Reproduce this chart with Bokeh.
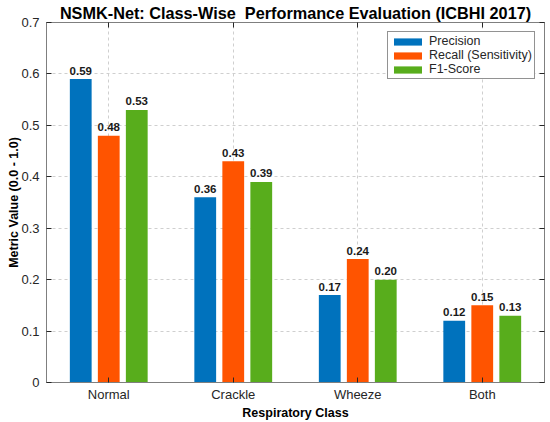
from bokeh.plotting import figure
from bokeh.models import (FactorRange, Range1d, FixedTicker, CategoricalAxis, LinearAxis,
                          ColumnDataSource, Legend, LegendItem)
from bokeh.transform import dodge
from bokeh.core.properties import value
from bokeh.embed import file_html
from bokeh.resources import INLINE

# ---- data ----
classes = ["Normal", "Crackle", "Wheeze", "Both"]
precision = [0.59, 0.36, 0.17, 0.12]
recall = [0.48, 0.43, 0.24, 0.15]
f1 = [0.53, 0.39, 0.20, 0.13]
series_names = ["Precision", "Recall (Sensitivity)", "F1-Score"]
y_ticks = [0, 0.1, 0.2, 0.3, 0.4, 0.5, 0.6, 0.7]
y_tick_labels = ["0", "0.1", "0.2", "0.3", "0.4", "0.5", "0.6", "0.7"]
title_text = "NSMK-Net: Class-Wise \u00a0Performance Evaluation (ICBHI 2017)"
x_label = "Respiratory Class"
y_label = "Metric Value (0.0 - 1.0)"

colors = ["#0072BD", "#FF5400", "#58AD1C"]
FONT = "Liberation Sans"
AX = "#262626"
EDGE = "#7f7f7f"

src = ColumnDataSource(dict(
    cls=classes,
    precision=precision, recall=recall, f1=f1,
    precision_lbl=["%.2f" % v for v in precision],
    recall_lbl=["%.2f" % v for v in recall],
    f1_lbl=["%.2f" % v for v in f1],
))

p = figure(x_range=FactorRange(*classes), y_range=Range1d(0, 0.7),
           width=550, height=422, output_backend="svg", toolbar_location=None,
           min_border_left=46, min_border_right=6, min_border_top=22, min_border_bottom=40)
p.background_fill_color = "white"
p.border_fill_color = "white"
p.outline_line_color = EDGE
p.outline_line_width = 1

# title
p.title.text = title_text
p.title.align = "center"
p.title.offset = 5.5
p.title.standoff = 1
p.title.text_font = FONT
p.title.text_font_style = "bold"
p.title.text_font_size = "16.25px"
p.title.text_color = "#000000"

fields = ["precision", "recall", "f1"]
offsets = [-0.225, 0.0, 0.225]
renderers = []
for fld, off, col in zip(fields, offsets, colors):
    r = p.vbar(x=dodge("cls", off, range=p.x_range), top=fld, width=0.175,
               source=src, fill_color=col, line_color=None)
    renderers.append(r)
    p.text(x=dodge("cls", off, range=p.x_range), y=fld, text=fld + "_lbl", source=src,
           text_align="center", text_baseline="alphabetic", y_offset=-8.5,
           text_font=value(FONT), text_font_style="bold", text_font_size="11.5px",
           text_color="#1a1a1a")

# axes
ticker = FixedTicker(ticks=y_ticks)
yax = p.yaxis[0]
yax.ticker = ticker
yax.major_label_overrides = dict(zip(y_ticks, y_tick_labels))
xax = p.xaxis[0]
for ax in (xax, yax):
    ax.major_tick_in = 5
    ax.major_tick_out = 0
    ax.minor_tick_line_color = None
    ax.axis_line_color = EDGE
    ax.major_tick_line_color = AX
    ax.major_label_text_font = FONT
    ax.major_label_text_font_size = "13px"
    ax.major_label_text_color = AX
    ax.axis_label_text_font = FONT
    ax.axis_label_text_font_size = "12.5px"
    ax.axis_label_text_font_style = "bold"
    ax.axis_label_text_color = "#000000"
xax.axis_label = x_label
yax.axis_label = y_label
xax.major_label_standoff = 4
xax.axis_label_standoff = 1
yax.major_label_standoff = 7
yax.axis_label_standoff = -3

# mirrored tick axes on right and top (ticks only, no labels)
rax = LinearAxis(ticker=ticker, major_tick_in=5, major_tick_out=0,
                 minor_tick_line_color=None, major_label_text_font_size="0px",
                 major_label_text_color=None, major_label_standoff=0,
                 axis_line_color=EDGE, major_tick_line_color=AX)
tax = CategoricalAxis(major_tick_in=5, major_tick_out=0,
                      major_label_text_font_size="0px", major_label_text_color=None,
                      major_label_standoff=0,
                      axis_line_color=EDGE, major_tick_line_color=AX)
p.add_layout(rax, "right")
p.add_layout(tax, "above")

# grids
p.ygrid.ticker = ticker
for g in (p.xgrid, p.ygrid):
    g.grid_line_color = "#cfcfcf"
    g.grid_line_dash = "3 3"
    g.grid_line_width = 1

legend = Legend(items=[LegendItem(label=n, renderers=[r]) for n, r in zip(series_names, renderers)],
                location=(341, 303), orientation="vertical",
                glyph_width=35, glyph_height=9, label_standoff=4, spacing=0,
                padding=2, margin=0, label_height=13,
                label_text_font=FONT, label_text_font_size="12.5px", label_text_color=AX,
                border_line_color=AX, border_line_width=1,
                background_fill_color="white", background_fill_alpha=1.0)
p.add_layout(legend)

open("out.html", "w").write(file_html(p, INLINE))
